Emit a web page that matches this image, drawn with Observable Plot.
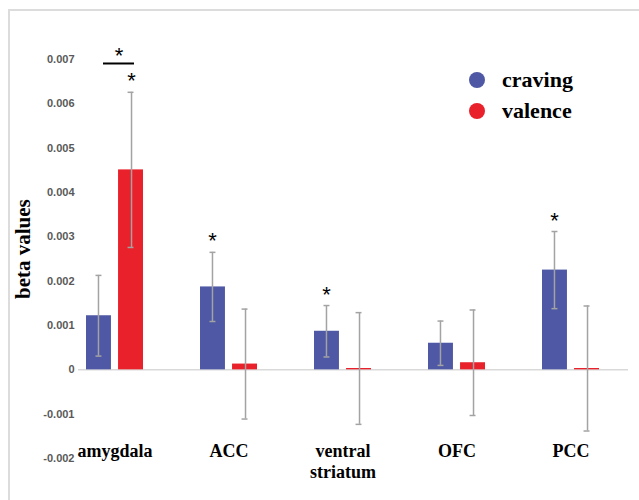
<!DOCTYPE html>
<html>
<head>
<meta charset="utf-8">
<script src="https://cdn.jsdelivr.net/npm/d3@7"></script>
<script src="https://cdn.jsdelivr.net/npm/@observablehq/plot@0.6"></script>
<style>
  html, body { margin: 0; padding: 0; background: #fff; }
  #wrap { position: relative; width: 639px; height: 500px; overflow: hidden; }
  #border { position: absolute; left: 8px; top: 9px; right: -4px; bottom: -4px;
            border-left: 2px solid #dcdcdc; border-top: 2px solid #dcdcdc; }
  #legend { position: absolute; left: 469px; top: 64px; font-family: "Liberation Serif", "Times New Roman", serif;
            font-weight: bold; font-size: 22px; color: #000; }
  .item { display: flex; align-items: center; height: 31.5px; }
  .sw { width: 16px; height: 16px; border-radius: 50%; margin-right: 17px; }
</style>
</head>
<body>
<div id="wrap">
  <div id="border"></div>
  <div id="chart"></div>
  <div id="legend"></div>
</div>
<script>
// ---- data ----
const regions = ["amygdala", "ACC", "ventral striatum", "OFC", "PCC"];
const regionLabels = ["amygdala", "ACC", "ventral\nstriatum", "OFC", "PCC"];
const seriesNames = ["craving", "valence"];
const cravingMean = [0.00122, 0.00187, 0.00087, 0.00060, 0.00225];
const cravingErr  = [0.00091, 0.00078, 0.00058, 0.00050, 0.00087];
const valenceMean = [0.00451, 0.00013, 0.00003, 0.00016, 0.00003];
const valenceErr  = [0.00175, 0.00124, 0.00126, 0.00119, 0.00141];
const yTicks = [-0.002, -0.001, 0, 0.001, 0.002, 0.003, 0.004, 0.005, 0.006, 0.007];
const sigMarks = [
  {region: "amygdala", series: "valence"},
  {region: "ACC", series: "craving"},
  {region: "ventral striatum", series: "craving"},
  {region: "PCC", series: "craving"}
];
const bracket = [{region: "amygdala", y: 0.00691}];
const colors = {craving: "#4e58a4", valence: "#e8212a"};

// ---- table ----
const rows = [];
regions.forEach((r, i) => {
  rows.push({region: r, series: "craving", mean: cravingMean[i], err: cravingErr[i]});
  rows.push({region: r, series: "valence", mean: valenceMean[i], err: valenceErr[i]});
});
const cr = rows.filter(d => d.series === "craving");
const va = rows.filter(d => d.series === "valence");
const sigRows = sigMarks.map(s => rows.find(d => d.region === s.region && d.series === s.series));
const sigCr = sigRows.filter(d => d.series === "craving");
const sigVa = sigRows.filter(d => d.series === "valence");

const BW = 57.05, BAR = 25, CAP = 6;
const off = (BW - BAR) / 2 + 0.5; // offset of bar center from band center

const serif = "'Liberation Serif', 'Times New Roman', serif";
const sans = "'Liberation Sans', Arial, sans-serif";
const errStyle = {stroke: "#a3a3a3", strokeWidth: 1.5};
const starStyle = {text: () => "*", fontSize: 22, fontFamily: sans, fill: "#000", lineAnchor: "middle"};

const chart = Plot.plot({
  width: 639,
  height: 500,
  marginLeft: 78,
  marginRight: 11,
  marginTop: 59,
  marginBottom: 42,
  style: {fontFamily: sans, background: "transparent"},
  x: {type: "band", domain: regions, range: [57.5, 628], paddingInner: 0.5, paddingOuter: 0.25, axis: null},
  y: {domain: [-0.002, 0.007], axis: null},
  marks: [
    Plot.ruleY([0], {stroke: "#d9d9d9", strokeWidth: 1.5}),
    Plot.axisY(yTicks, {
      tickSize: 0, tickPadding: 4, fontSize: 11, fontWeight: "bold", color: "#595959",
      tickFormat: d => d === 0 ? "0" : d.toFixed(3), label: null
    }),
    Plot.barY(cr, {x: "region", y: "mean", fill: colors.craving, insetRight: BW - BAR}),
    Plot.barY(va, {x: "region", y: "mean", fill: colors.valence, insetLeft: BW - BAR}),
    // error bars
    Plot.ruleX(cr, {x: "region", y1: d => d.mean - d.err, y2: d => d.mean + d.err, dx: -off, ...errStyle}),
    Plot.ruleX(va, {x: "region", y1: d => d.mean - d.err, y2: d => d.mean + d.err, dx: off, ...errStyle}),
    ...["lo", "hi"].flatMap(k => [
      Plot.tickY(cr, {x: "region", y: d => k === "lo" ? d.mean - d.err : d.mean + d.err,
        insetLeft: BAR / 2 - CAP / 2, insetRight: BW - BAR / 2 - CAP / 2, ...errStyle}),
      Plot.tickY(va, {x: "region", y: d => k === "lo" ? d.mean - d.err : d.mean + d.err,
        insetLeft: BW - BAR / 2 - CAP / 2, insetRight: BAR / 2 - CAP / 2, ...errStyle})
    ]),
    // significance stars
    Plot.text(sigCr, {x: "region", y: d => d.mean + d.err, dx: -off, dy: -11, ...starStyle}),
    Plot.text(sigVa, {x: "region", y: d => d.mean + d.err, dx: off, dy: -11, ...starStyle}),
    // bracket
    Plot.tickY(bracket, {x: "region", y: "y", insetLeft: 17, insetRight: 9, stroke: "#000", strokeWidth: 2}),
    Plot.text(bracket, {x: "region", y: "y", dx: 4, dy: -8, ...starStyle}),
    // category labels
    Plot.text(regions, {x: d => d, text: (d, i) => regionLabels[i], frameAnchor: "bottom", lineAnchor: "top", dy: -16,
      fontSize: 18, fontWeight: "bold", fontFamily: serif, fill: "#000", lineHeight: 1.15}),
    // y title
    Plot.text(["beta values"], {frameAnchor: "left", rotate: -90, dx: -55, dy: 40, lineAnchor: "middle",
      fontSize: 21, fontWeight: "bold", fontFamily: serif, fill: "#000"})
  ]
});
document.getElementById("chart").appendChild(chart);

// legend
const legend = document.getElementById("legend");
seriesNames.forEach(s => {
  const it = document.createElement("div");
  it.className = "item";
  const sw = document.createElement("div");
  sw.className = "sw";
  sw.style.background = colors[s];
  const t = document.createElement("span");
  t.textContent = s;
  it.appendChild(sw); it.appendChild(t);
  legend.appendChild(it);
});
</script>
</body>
</html>
